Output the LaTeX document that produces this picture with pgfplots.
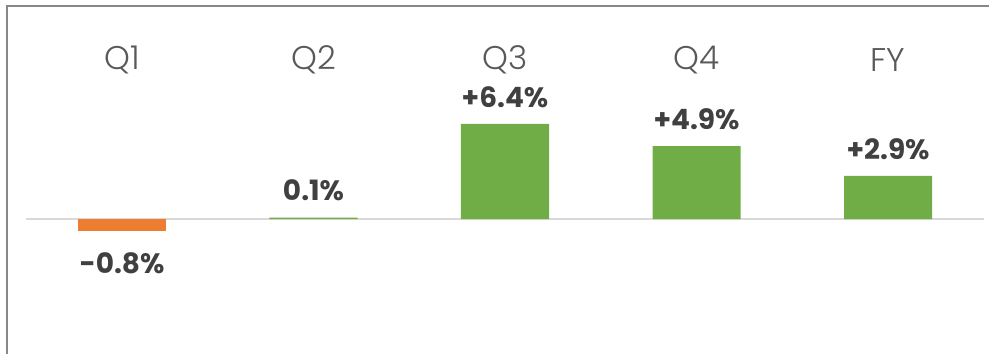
\documentclass[border=0pt]{standalone}
\usepackage{fontspec}
\setmainfont{Poppins}
\newfontfamily\lightfont{Poppins Light}
\usepackage{pgfplots}
\pgfplotsset{compat=1.18}
\definecolor{cgreen}{HTML}{70AD47}
\definecolor{corange}{HTML}{ED7D31}
\definecolor{ccat}{HTML}{595959}
\definecolor{cval}{HTML}{404040}
\definecolor{cframe}{HTML}{888888}
\definecolor{czero}{HTML}{D9D9D9}
\begin{document}
\begin{tikzpicture}
\begin{axis}[
  scale only axis,
  width=494.5pt, height=177pt,
  xmin=-0.637, xmax=4.527,
  ymin=-9.085, ymax=14.74,
  axis lines=none,
  ticks=none,
  clip=false,
  ybar, bar width=0.46, bar shift=0pt,
]
\draw[czero, line width=1pt] (axis cs:-0.5,0) -- (axis cs:4.5,0);
\draw[cframe, line width=1pt] (rel axis cs:0.0071,-0.01) -- (rel axis cs:0.0071,0.983) -- (rel axis cs:1.01,0.983);
\addplot[fill=cgreen, draw=none,
  nodes near coords, point meta=explicit symbolic,
  nodes near coords style={anchor=center, yshift=13.5pt, font=\bfseries\fontsize{14pt}{16pt}\selectfont, text=cval}]
  coordinates {(1,0.1)[0.1\%] (2,6.4)[+6.4\%] (3,4.9)[+4.9\%] (4,2.9)[+2.9\%]};
\addplot[fill=corange, draw=none,
  nodes near coords, point meta=explicit symbolic,
  nodes near coords style={anchor=center, yshift=-16pt, font=\bfseries\fontsize{14pt}{16pt}\selectfont, text=cval}]
  coordinates {(0,-0.8)[-0.8\%]};
\addplot[draw=none, fill=none, mark=none, only marks,
  nodes near coords, point meta=explicit symbolic,
  nodes near coords style={anchor=center, font=\lightfont\fontsize{16.4pt}{18pt}\selectfont, text=ccat}]
  coordinates {(0,10.7)[Q1] (1,10.7)[Q2] (2,10.7)[Q3] (3,10.7)[Q4] (4,10.7)[FY]};
\end{axis}
\pgfresetboundingbox
\useasboundingbox (current axis.south west) rectangle (current axis.north east);
\end{tikzpicture}
\end{document}
